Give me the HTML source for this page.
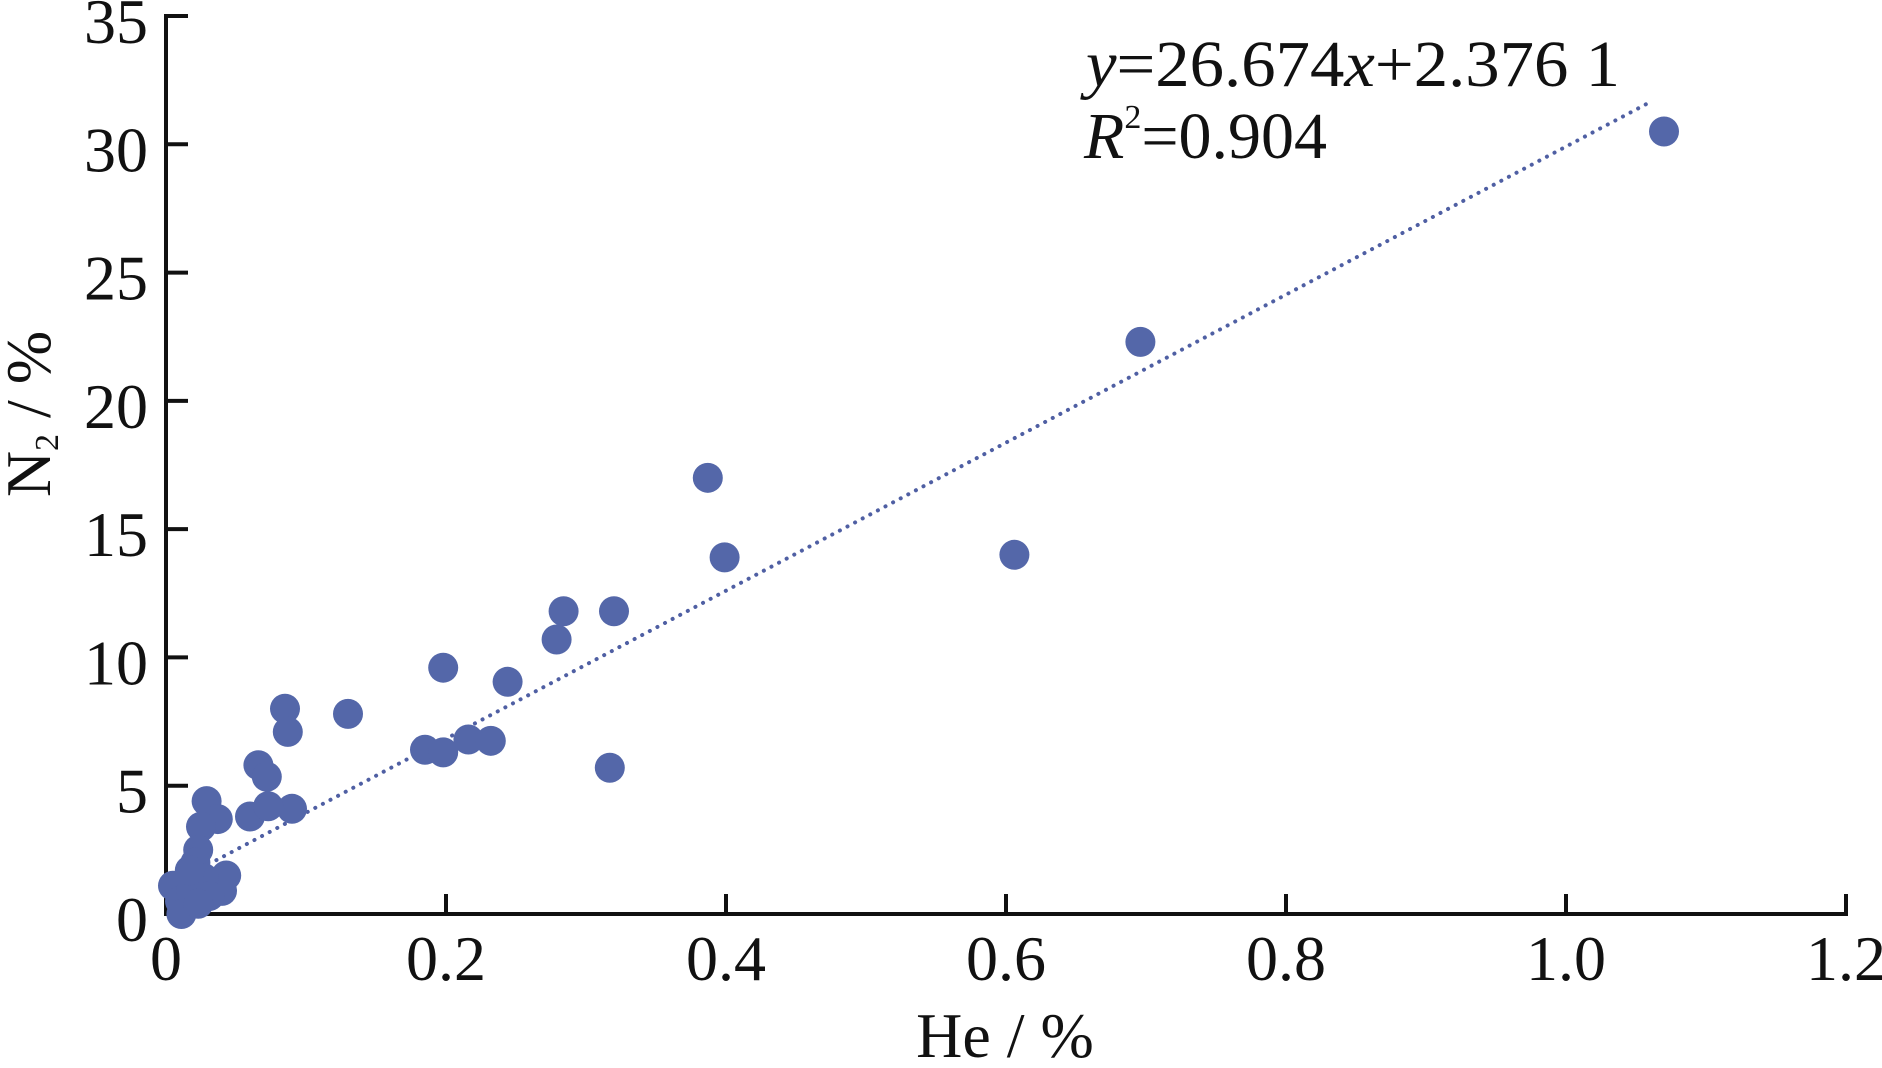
<!DOCTYPE html>
<html><head><meta charset="utf-8"><style>
html,body{margin:0;padding:0;background:#fff;}
svg{display:block;}
text{font-family:"Liberation Serif","Times New Roman",serif;fill:#111;}
</style></head><body>
<svg id="chart" width="1882" height="1068" viewBox="0 0 1882 1068" xmlns="http://www.w3.org/2000/svg">
<g id="axes"></g>
<g id="trend"></g>
<g id="points"></g>
<text x="1086" y="86" font-size="66" textLength="534" lengthAdjust="spacingAndGlyphs"><tspan font-style="italic">y</tspan>=26.674<tspan font-style="italic">x</tspan>+2.376 1</text>
<text x="1084" y="158" font-size="66"><tspan font-style="italic">R</tspan><tspan font-size="34" dy="-30">2</tspan><tspan dy="30">=0.904</tspan></text>
<text x="1005" y="1057" font-size="64" text-anchor="middle">He / %</text>
<text transform="translate(50,414) rotate(-90)" font-size="64" text-anchor="middle">N<tspan font-size="34" dy="8">2</tspan><tspan dy="-8"> / %</tspan></text>
</svg>
<script>
const xTicks=[0,0.2,0.4,0.6,0.8,1.0,1.2];
const xTickLabels=["0","0.2","0.4","0.6","0.8","1.0","1.2"];
const yTicks=[0,5,10,15,20,25,30,35];
const yTickLabels=["0","5","10","15","20","25","30","35"];
const heValues=[1.070,0.696,0.606,0.387,0.399,0.284,0.320,0.279,0.198,0.244,0.317,0.130,0.085,0.087,0.185,0.198,0.216,0.232,0.066,0.072,0.090,0.060,0.073,0.029,0.037,0.025,0.023,0.021,0.043,0.040,0.005,0.010,0.011,0.018,0.027,0.031,0.017,0.023];
const n2Values=[30.5,22.3,14.0,17.0,13.9,11.8,11.8,10.7,9.6,9.05,5.7,7.8,8.0,7.1,6.4,6.3,6.8,6.75,5.8,5.35,4.1,3.8,4.2,4.4,3.7,3.4,2.5,2.0,1.5,0.9,1.1,0.5,0.0,0.9,1.4,0.7,1.7,0.4];
const trendX=[0.036,1.062];
const trendY=[2.1,31.7];

const NS="http://www.w3.org/2000/svg";
const X0=166,X1=1846,Y0=914,Y1=16;
const xScale=v=>X0+v/1.2*(X1-X0);
const yScale=v=>Y0-v/35*(Y0-Y1);
function mk(tag,attrs,parent){const e=document.createElementNS(NS,tag);for(const k in attrs)e.setAttribute(k,attrs[k]);parent.appendChild(e);return e;}
const axes=document.getElementById('axes');
let el=mk('line',{x1:X0,y1:Y0,x2:X1+2,y2:Y0,stroke:'#111','stroke-width':4},axes);


el=mk('line',{x1:X0,y1:Y0+2,x2:X0,y2:Y1-2,stroke:'#111','stroke-width':4},axes);


xTicks.forEach((t,i)=>{
  const x=xScale(t);
  if(i>0){const tk=mk('line',{x1:x,y1:Y0,x2:x,y2:Y0-20,stroke:'#111','stroke-width':4},axes);
  
  }
  const lb=mk('text',{x:x,y:980,'font-size':64,'text-anchor':'middle'},axes);
  lb.textContent=xTickLabels[i];
  
  
});
yTicks.forEach((t,i)=>{
  const y=yScale(t);
  if(i>0){const tk=mk('line',{x1:X0,y1:y,x2:X0+22,y2:y,stroke:'#111','stroke-width':4},axes);
  
  }
  const lb=mk('text',{x:148,y:y+27,'font-size':64,'text-anchor':'end'},axes);
  lb.textContent=yTickLabels[i];
  
  
});
const tg=document.getElementById('trend');
const tl=mk('line',{x1:xScale(trendX[0]),y1:yScale(trendY[0]),x2:xScale(trendX[1]),y2:yScale(trendY[1]),stroke:'#4f5fa3','stroke-width':4,'stroke-dasharray':'0.1 8.5','stroke-linecap':'round'},tg);


const pg=document.getElementById('points');
heValues.forEach((v,i)=>{
  const c=mk('circle',{cx:xScale(v),cy:yScale(n2Values[i]),r:15,fill:'#5467a9'},pg);
  
  
});
</script>
</body></html>
